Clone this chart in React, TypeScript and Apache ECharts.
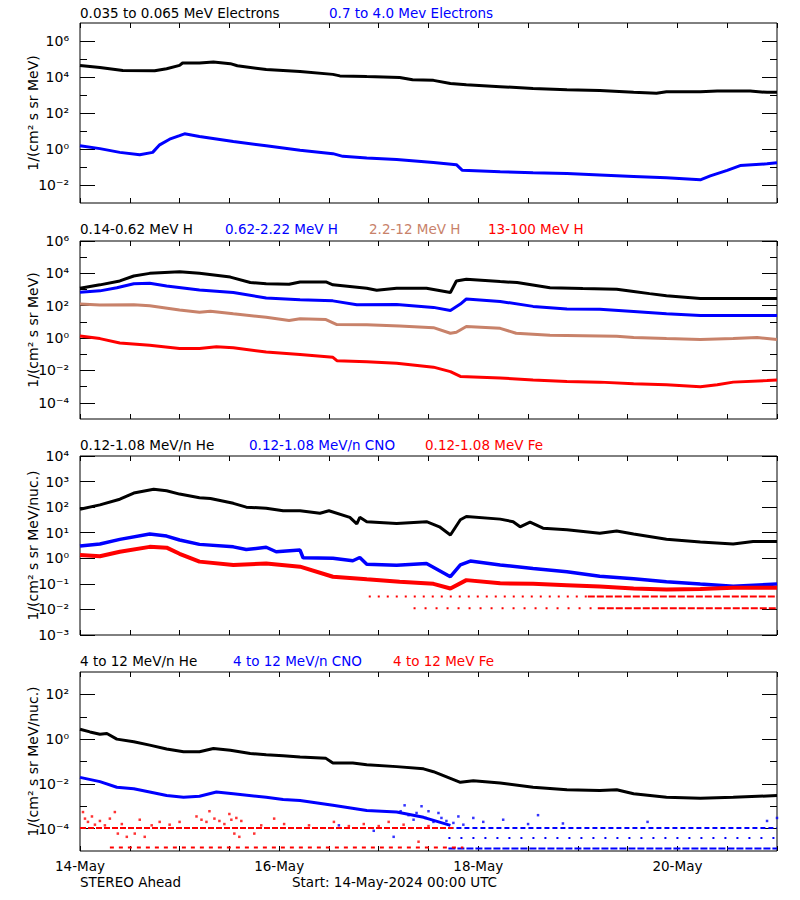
import React, { useEffect, useRef } from "react";
import * as echarts from "echarts";

// ---------- text ----------
const DAY_LABELS = ["14-May", "16-May", "18-May", "20-May"]; // at day 0, 2, 4, 6
const TITLES_1 = ["0.035 to 0.065 MeV Electrons", "0.7 to 4.0 Mev Electrons"];
const TITLES_2 = ["0.14-0.62 MeV H", "0.62-2.22 MeV H", "2.2-12 MeV H", "13-100 MeV H"];
const TITLES_3 = ["0.12-1.08 MeV/n He", "0.12-1.08 MeV/n CNO", "0.12-1.08 MeV Fe"];
const TITLES_4 = ["4 to 12 MeV/n He", "4 to 12 MeV/n CNO", "4 to 12 MeV Fe"];
const Y_NAMES = ["1/(cm² s sr MeV)", "1/(cm² s sr MeV)", "1/(cm² s sr MeV/nuc.)", "1/(cm² s sr MeV/nuc.)"];
const FOOTER_LEFT = "STEREO Ahead";
const FOOTER_START = "Start: 14-May-2024 00:00 UTC";

// ---------- axes ----------
const X_MIN = 0;
const X_MAX = 7; // days after 14-May 00:00
const Y_MIN = [1e-3, 1e-5, 1e-3, 1e-5];
const Y_MAX = [1e7, 1e6, 1e4, 1e3];
const Y_LABELLED = [
  [1e-2, 1, 1e2, 1e4, 1e6],
  [1e-4, 1e-2, 1, 1e2, 1e4, 1e6],
  [1e-3, 1e-2, 1e-1, 1, 1e1, 1e2, 1e3, 1e4],
  [1e-4, 1e-2, 1, 1e2],
];
const Y_MINOR = [
  [1e-1, 1e1, 1e3, 1e5],
  [1e-3, 1e-1, 1e1, 1e3, 1e5],
  [],
  [1e-3, 1e-1, 1e1],
];

// ---------- data: [day, flux] ----------
// Panel 1: electrons
const elecLow = [
  [0, 4.4e4], [0.2, 3.4e4], [0.43, 2.3e4], [0.75, 2.2e4], [0.87, 2.9e4], [1.0, 4.4e4], [1.03, 6.0e4],
  [1.2, 6.0e4], [1.34, 6.8e4], [1.51, 5.5e4], [1.58, 4.2e4], [1.87, 2.6e4], [2.21, 2.0e4], [2.54, 1.4e4],
  [2.61, 1.15e4], [2.88, 1.05e4], [3.21, 9.5e3], [3.34, 7.1e3], [3.55, 6.5e3], [3.72, 4.3e3], [3.88, 3.7e3],
  [4.22, 2.9e3], [4.55, 2.3e3], [4.89, 1.95e3], [5.22, 1.8e3], [5.56, 1.4e3], [5.79, 1.25e3], [5.89, 1.5e3],
  [6.23, 1.5e3], [6.4, 1.65e3], [6.73, 1.65e3], [6.9, 1.4e3], [7.0, 1.4e3],
];
const elecHigh = [
  [0, 1.5], [0.2, 1.05], [0.4, 0.65], [0.6, 0.48], [0.73, 0.65], [0.8, 1.7], [0.9, 3.5], [1.0, 5.5],
  [1.05, 7.0], [1.2, 5.0], [1.54, 2.6], [1.87, 1.5], [2.21, 0.85], [2.54, 0.55], [2.64, 0.39], [2.88, 0.32],
  [3.18, 0.26], [3.55, 0.18], [3.78, 0.135], [3.84, 0.065], [4.22, 0.055], [4.55, 0.048], [4.89, 0.043],
  [5.22, 0.036], [5.56, 0.03], [5.89, 0.025], [6.23, 0.0195], [6.33, 0.032], [6.5, 0.065], [6.63, 0.12],
  [6.9, 0.15], [7.0, 0.17],
];
// Panel 2: protons
const protonA = [
  [0, 1.2e3], [0.2, 1.95e3], [0.4, 3.4e3], [0.54, 6.9e3], [0.7, 1.0e4], [1.0, 1.26e4], [1.2, 1.0e4],
  [1.51, 5.9e3], [1.71, 2.7e3], [1.87, 2.3e3], [2.1, 2.1e3], [2.21, 2.95e3], [2.47, 2.95e3], [2.54, 1.95e3],
  [2.88, 1.2e3], [2.98, 9.1e2], [3.18, 1.2e3], [3.48, 1.2e3], [3.72, 6.6e2], [3.78, 3.4e3], [3.88, 4.3e3],
  [4.22, 3.1e3], [4.39, 2.7e3], [4.72, 1.3e3], [5.05, 1.15e3], [5.39, 1.05e3], [5.56, 7.6e2], [5.72, 5.6e2],
  [5.89, 4.1e2], [6.23, 2.8e2], [6.56, 2.8e2], [7.0, 2.8e2],
];
const protonB = [
  [0, 6.9e2], [0.2, 8.3e2], [0.37, 1.3e3], [0.54, 2.3e3], [0.7, 2.45e3], [0.87, 1.65e3], [1.2, 9.5e2],
  [1.54, 6.6e2], [1.87, 3.0e2], [2.21, 2.35e2], [2.54, 2.0e2], [2.78, 1.15e2], [3.18, 1.2e2], [3.55, 79],
  [3.72, 50], [3.82, 126], [3.88, 260], [4.22, 185], [4.55, 91], [4.89, 63], [5.22, 60], [5.56, 44],
  [5.89, 32], [6.23, 25], [7.0, 25],
];
const protonC = [
  [0, 126], [0.2, 110], [0.54, 115], [0.7, 100], [1.0, 55], [1.2, 40], [1.31, 46], [1.54, 32], [1.87, 19.5],
  [2.1, 12.3], [2.21, 15.5], [2.47, 14], [2.58, 6.9], [2.88, 6.6], [3.21, 5.5], [3.55, 4.4], [3.72, 2.0],
  [3.78, 2.3], [3.88, 5.2], [4.22, 4.0], [4.38, 2.0], [4.72, 1.5], [5.05, 1.4], [5.39, 1.3], [5.56, 1.07],
  [5.89, 0.93], [6.23, 0.81], [6.56, 0.93], [6.8, 1.07], [7.0, 0.81],
];
const protonD = [
  [0, 1.35], [0.2, 0.93], [0.4, 0.5], [0.7, 0.36], [1.0, 0.23], [1.2, 0.23], [1.37, 0.29], [1.54, 0.25],
  [1.87, 0.14], [2.21, 0.098], [2.54, 0.065], [2.58, 0.04], [2.88, 0.035], [3.18, 0.028], [3.55, 0.016],
  [3.72, 0.0085], [3.82, 0.0043], [4.22, 0.0034], [4.55, 0.0026], [4.89, 0.0021], [5.22, 0.0019],
  [5.56, 0.0015], [5.89, 0.0013], [6.23, 0.001], [6.4, 0.0013], [6.56, 0.0019], [6.9, 0.0024], [7.0, 0.0026],
];
// Panel 3: low-energy ions
const heLow = [
  [0, 83], [0.2, 123], [0.4, 204], [0.54, 355], [0.74, 500], [0.87, 436], [1.0, 324], [1.2, 234], [1.31, 219],
  [1.54, 141], [1.67, 100], [1.87, 91], [2.04, 72], [2.21, 72], [2.41, 58], [2.5, 72], [2.71, 40], [2.78, 22],
  [2.81, 40], [2.88, 27], [3.18, 23], [3.48, 27], [3.61, 17], [3.72, 8.1], [3.82, 32], [3.88, 43], [4.22, 34],
  [4.35, 27], [4.42, 17], [4.52, 26], [4.65, 15], [4.89, 13], [5.22, 9.5], [5.39, 11.7], [5.56, 8.9],
  [5.89, 5.5], [6.23, 4.3], [6.56, 3.6], [6.76, 4.5], [7.0, 4.5],
];
const cnoLow = [
  [0, 3.0], [0.2, 3.6], [0.4, 5.5], [0.7, 8.9], [0.87, 7.4], [1.0, 5.2], [1.2, 3.5], [1.54, 2.8], [1.67, 2.2],
  [1.87, 2.7], [1.97, 1.8], [2.21, 2.1], [2.24, 1.05], [2.54, 1.0], [2.74, 0.8], [2.81, 1.07], [2.88, 0.59],
  [3.18, 0.54], [3.48, 0.63], [3.72, 0.19], [3.82, 0.55], [3.92, 0.78], [4.22, 0.55], [4.55, 0.4], [4.89, 0.3],
  [5.22, 0.2], [5.56, 0.16], [5.89, 0.12], [6.23, 0.098], [6.56, 0.081], [7.0, 0.098],
];
const feLow = [
  [0, 1.35], [0.2, 1.2], [0.4, 1.8], [0.7, 2.8], [0.87, 2.6], [1.0, 1.5], [1.2, 0.74], [1.54, 0.55],
  [1.87, 0.63], [2.21, 0.47], [2.54, 0.19], [2.88, 0.15], [3.21, 0.12], [3.55, 0.1], [3.72, 0.066],
  [3.88, 0.14], [4.22, 0.105], [4.55, 0.1], [4.89, 0.089], [5.22, 0.078], [5.56, 0.066], [5.89, 0.06],
  [6.23, 0.063], [6.56, 0.071], [7.0, 0.071],
];
const feLowRowHiSparse = [[2.9, 0.032], [5.1, 0.032]];
const feLowRowHiDense = [[5.1, 0.032], [7.0, 0.032]];
const feLowRowLoSparse = [[3.35, 0.011], [5.2, 0.011]];
const feLowRowLoDense = [[5.2, 0.011], [7.0, 0.011]];
// Panel 4: high-energy ions
const heHigh = [
  [0, 2.75], [0.1, 2.1], [0.2, 1.66], [0.27, 1.78], [0.37, 1.0], [0.54, 0.76], [0.7, 0.54], [0.87, 0.36],
  [1.04, 0.275], [1.2, 0.275], [1.34, 0.38], [1.51, 0.32], [1.71, 0.23], [1.87, 0.2], [2.04, 0.18],
  [2.21, 0.16], [2.47, 0.138], [2.54, 0.085], [2.74, 0.085], [2.88, 0.072], [3.18, 0.059], [3.45, 0.047],
  [3.55, 0.035], [3.82, 0.0117], [3.95, 0.0138], [4.22, 0.011], [4.55, 0.0071], [4.89, 0.0054], [5.22, 0.005],
  [5.39, 0.0055], [5.56, 0.0036], [5.89, 0.0025], [6.23, 0.0023], [6.56, 0.0025], [7.0, 0.003],
];
const cnoHigh = [
  [0, 0.0195], [0.2, 0.0126], [0.37, 0.0071], [0.54, 0.006], [0.7, 0.0043], [0.87, 0.003], [1.04, 0.0025],
  [1.2, 0.0028], [1.37, 0.0043], [1.54, 0.0036], [1.87, 0.0025], [2.04, 0.002], [2.21, 0.0018],
  [2.54, 0.0011], [2.88, 6.5e-4], [3.18, 5.5e-4], [3.45, 3.2e-4], [3.72, 1.4e-4],
];
const cnoHighScatter = [
  [2.6, 1.4e-4], [2.95, 8e-5], [3.15, 4.3e-5], [3.22, 6e-4], [3.26, 1.1e-3], [3.3, 4e-4], [3.35, 2.5e-4],
  [3.38, 5e-4], [3.43, 1.0e-3], [3.47, 3e-4], [3.5, 6e-4], [3.55, 2e-4], [3.6, 5e-4], [3.63, 3e-4],
  [3.68, 2.2e-4], [3.75, 1.8e-4], [3.8, 3.5e-4], [3.85, 1.5e-4], [3.95, 3e-4], [4.05, 2e-4], [4.25, 2.5e-4],
  [4.5, 1.6e-4], [4.6, 4e-4], [4.85, 1.7e-4], [5.7, 2e-4], [6.9, 2.2e-4], [7.0, 3e-4],
];
const cnoHighRowA = [[3.7, 1.07e-4], [7.0, 1.07e-4]];
const cnoHighRowB = [[3.7, 3.8e-5], [7.0, 3.8e-5]];
const cnoHighRowC = [[3.7, 1.3e-5], [7.0, 1.3e-5]];
const feHighScatter = [
  [0.03, 5.5e-4], [0.05, 2.8e-4], [0.08, 2.0e-4], [0.12, 3.5e-4], [0.15, 1.5e-4], [0.2, 2.2e-4],
  [0.25, 1.4e-4], [0.3, 2.8e-4], [0.35, 5.5e-4], [0.38, 6e-5], [0.42, 1.6e-4], [0.47, 4.3e-5], [0.55, 6e-5],
  [0.6, 2.5e-4], [0.65, 4.3e-5], [0.72, 1.4e-4], [0.8, 2.0e-4], [0.9, 1.5e-4], [1.0, 2.0e-4], [1.17, 3.5e-4],
  [1.22, 2.5e-4], [1.27, 2.0e-4], [1.3, 6e-4], [1.35, 2.8e-4], [1.4, 2.2e-4], [1.45, 1.6e-4], [1.5, 4.5e-4],
  [1.52, 2.5e-4], [1.57, 3e-4], [1.62, 2.2e-4], [1.55, 6e-5], [1.6, 4.3e-5], [1.75, 6e-5], [1.82, 1.4e-4],
  [1.95, 2.8e-4], [2.05, 1.6e-4], [2.3, 1.4e-4], [2.55, 2.0e-4], [2.7, 1.3e-4], [2.85, 1.6e-4], [3.0, 1.3e-4],
  [3.1, 2e-4], [3.25, 1.5e-4], [3.4, 2.6e-5], [3.5, 1.3e-4],
];
const feHighRowA = [[0, 1.07e-4], [3.75, 1.07e-4]];
const feHighRowB = [[0.3, 1.45e-5], [3.85, 1.45e-5]];

// ---------- layout / style ----------
const FONT = '"DejaVu Sans", sans-serif';
const BLACK = "#000000";
const BLUE = "#0000ff";
const TAN = "#c8826a";
const RED = "#ff0000";
const GRID_LEFT = 80;
const GRID_WIDTH = 697;
const GRID_TOPS = [23, 241, 456, 672];
const GRID_HEIGHTS = [180, 178, 179, 179];

const SUP: Record<string, string> = {
  "-": "⁻", "0": "⁰", "1": "¹", "2": "²", "3": "³", "4": "⁴", "5": "⁵", "6": "⁶", "7": "⁷", "8": "⁸", "9": "⁹",
};
const powLabel = (v: number) =>
  "10" + String(Math.round(Math.log10(v))).split("").map((c) => SUP[c] || c).join("");

function buildOption() {
  const grid = GRID_TOPS.map((top, i) => ({
    left: GRID_LEFT, top, width: GRID_WIDTH, height: GRID_HEIGHTS[i],
    show: true, borderColor: BLACK, borderWidth: 1, backgroundColor: "transparent",
  }));

  const xAxis: any[] = [];
  const yAxis: any[] = [];
  for (let g = 0; g < 4; g++) {
    for (const pos of ["bottom", "top"]) {
      xAxis.push({
        gridIndex: g, type: "value", position: pos, min: X_MIN, max: X_MAX, interval: 0.5,
        axisLine: { show: false }, splitLine: { show: false },
        axisTick: { show: true, inside: true, length: 5, lineStyle: { color: BLACK, width: 1 } },
        axisLabel: {
          show: g === 3 && pos === "bottom", margin: 8, color: BLACK, fontFamily: FONT, fontSize: 13.5,
          lineHeight: 14,
          formatter: (v: number) => (Math.abs(v % 2) < 1e-9 ? DAY_LABELS[Math.round(v / 2)] || "" : ""),
        },
      });
    }
    for (const pos of ["left", "right"]) {
      // minor (unlabelled) decades
      yAxis.push({
        gridIndex: g, type: "log", logBase: 10, position: pos, min: Y_MIN[g], max: Y_MAX[g], interval: 1,
        axisLine: { show: false }, splitLine: { show: false },
        axisTick: { show: Y_MINOR[g].length > 0, inside: true, length: 7, customValues: Y_MINOR[g], lineStyle: { color: BLACK } },
        axisLabel: { show: false },
      });
      // labelled decades
      yAxis.push({
        gridIndex: g, type: "log", logBase: 10, position: pos, min: Y_MIN[g], max: Y_MAX[g], interval: 1,
        axisLine: { show: false }, splitLine: { show: false },
        axisTick: { show: true, inside: true, length: 15, customValues: Y_LABELLED[g], lineStyle: { color: BLACK } },
        axisLabel: {
          show: pos === "left", customValues: Y_LABELLED[g], margin: 11, color: BLACK, fontFamily: FONT, fontSize: 14,
          formatter: powLabel,
        },
        name: pos === "left" ? Y_NAMES[g] : "",
        nameLocation: "middle", nameRotate: 90, nameGap: 40, nameMoveOverlap: false,
        nameTextStyle: { color: BLACK, fontFamily: FONT, fontSize: 14 },
      });
    }
  }

  const yIdx = (g: number) => g * 4;
  const xIdx = (g: number) => g * 2;
  const line = (g: number, data: number[][], color: string, width = 2.5, type: any = "solid", z = 2) => ({
    type: "line", xAxisIndex: xIdx(g), yAxisIndex: yIdx(g), data, showSymbol: false, symbol: "none",
    lineStyle: { color, width, type }, itemStyle: { color }, z, silent: true,
  });
  const dots = (g: number, data: number[][], color: string) => ({
    type: "scatter", xAxisIndex: xIdx(g), yAxisIndex: yIdx(g), data, symbol: "rect", symbolSize: 2.5,
    itemStyle: { color }, silent: true,
  });

  const series = [
    line(0, elecLow, BLACK, 3),
    line(0, elecHigh, BLUE, 3),
    line(1, protonA, BLACK, 3),
    line(1, protonB, BLUE, 3),
    line(1, protonC, TAN, 3),
    line(1, protonD, RED, 3),
    line(2, heLow, BLACK, 3),
    line(2, cnoLow, BLUE, 3.5),
    line(2, feLow, RED, 4),
    line(2, feLowRowHiSparse, RED, 2, [2, 7]),
    line(2, feLowRowHiDense, RED, 2, [7, 2]),
    line(2, feLowRowLoSparse, RED, 2, [2, 9]),
    line(2, feLowRowLoDense, RED, 2, [7, 2]),
    line(3, heHigh, BLACK, 3),
    line(3, cnoHigh, BLUE, 3),
    dots(3, cnoHighScatter, BLUE),
    line(3, cnoHighRowA, BLUE, 2, [5, 3]),
    line(3, cnoHighRowB, BLUE, 2, [2, 10]),
    line(3, cnoHighRowC, BLUE, 2, [7, 2]),
    dots(3, feHighScatter, RED),
    line(3, feHighRowA, RED, 2, [6, 2]),
    line(3, feHighRowB, RED, 2, [4, 5]),
  ];

  const titleRows = [
    { y: 13, texts: TITLES_1, xs: [80, 329], colors: [BLACK, BLUE] },
    { y: 229, texts: TITLES_2, xs: [80, 225, 369, 488], colors: [BLACK, BLUE, TAN, RED] },
    { y: 445, texts: TITLES_3, xs: [80, 249, 425], colors: [BLACK, BLUE, RED] },
    { y: 661, texts: TITLES_4, xs: [80, 233, 393], colors: [BLACK, BLUE, RED] },
  ];
  const graphic: any[] = [];
  titleRows.forEach((row) =>
    row.texts.forEach((t, i) =>
      graphic.push({
        type: "text", x: row.xs[i], y: row.y, silent: true,
        style: { text: t, fill: row.colors[i], font: `13.5px ${FONT}`, textVerticalAlign: "middle", verticalAlign: "middle" },
      })
    )
  );
  graphic.push({
    type: "text", x: 80, y: 882, silent: true,
    style: { text: FOOTER_LEFT, fill: BLACK, font: `13.5px ${FONT}`, textVerticalAlign: "middle", verticalAlign: "middle" },
  });
  graphic.push({
    type: "text", x: 292, y: 882, silent: true,
    style: { text: FOOTER_START, fill: BLACK, font: `13.5px ${FONT}`, textVerticalAlign: "middle", verticalAlign: "middle" },
  });

  return {
    animation: false,
    backgroundColor: "#ffffff",
    textStyle: { fontFamily: FONT },
    grid, xAxis, yAxis, series, graphic,
  };
}

export default function App() {
  const ref = useRef<HTMLDivElement>(null);
  useEffect(() => {
    document.body.style.margin = "0";
    if (!ref.current) return;
    const chart = echarts.init(ref.current, undefined, { renderer: "svg" });
    chart.setOption(buildOption() as any);
    return () => chart.dispose();
  }, []);
  return <div ref={ref} style={{ width: 800, height: 900 }} />;
}
